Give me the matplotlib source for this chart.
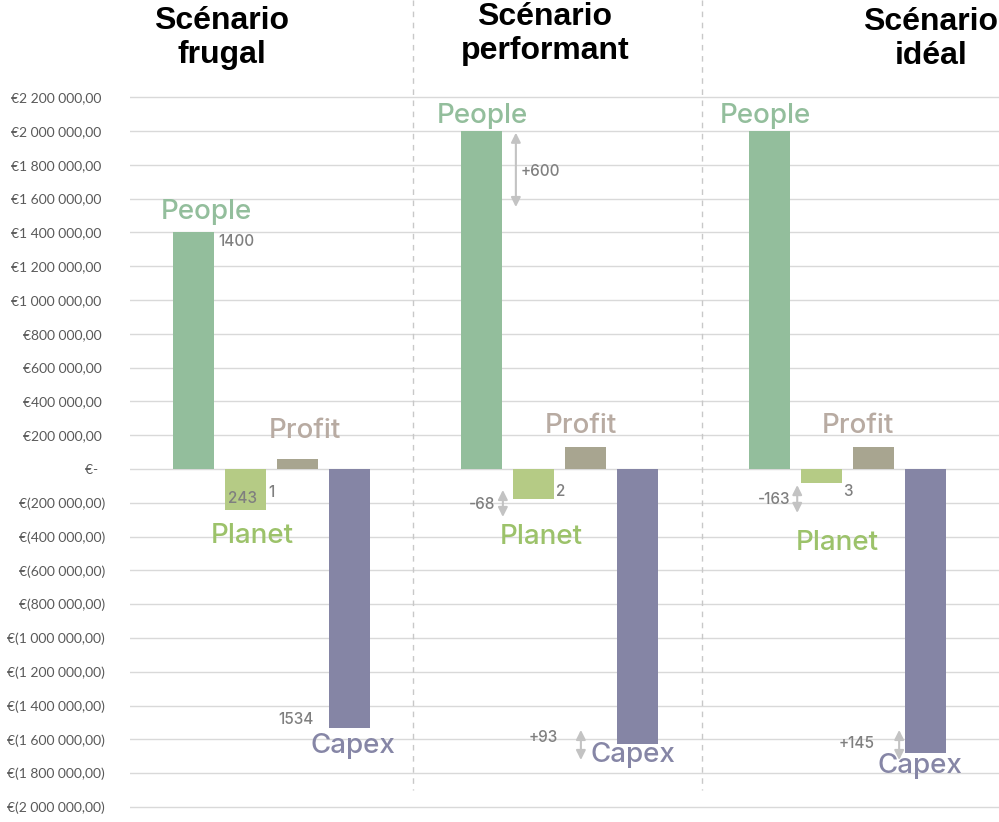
import numpy as np
import matplotlib.pyplot as plt
from matplotlib.lines import Line2D

# Données (en euros)
scenarios = ['Scénario\nfrugal', 'Scénario\nperformant', 'Scénario\nidéal']
postes = ['People', 'Planet', 'Profit', 'Capex']
people = [1400000, 2000000, 2000000]
planet = [-243000, -175000, -80000]
profit = [60000, 130000, 130000]
capex = [-1534000, -1627000, -1679000]

# annotations chiffrées : texte, x, y, alignement
notes = [
    ('1400', 0.47, 1349000, 'left'),
    ('243', 0.95, -172000, 'center'),
    ('1', 1.43, -142000, 'left'),
    ('1534', 1.63, -1485000, 'left'),
    ('+600', 6.30, 1763000, 'left'),
    ('-68', 5.80, -213000, 'right'),
    ('2', 6.97, -136000, 'left'),
    ('+93', 7.01, -1586000, 'right'),
    ('-163', 11.47, -178000, 'right'),
    ('3', 12.49, -136000, 'left'),
    ('+145', 13.09, -1627000, 'right'),
]
fleches = [
    (6.20, 1990000, 1550000),
    (5.95, -124000, -284000),
    (7.45, -1544000, -1722000),
    (11.61, -95000, -260000),
    (13.57, -1544000, -1722000),
]

couleurs_barres = ['#93BE9C', '#B5CB85', '#A8A590', '#8585A5']
couleurs_txt = ['#93BE9C', '#9CC26A', '#B8ABA2', '#8686A6']

# positions des étiquettes de catégorie (par scénario)
pos_labels = [
    [(0.24, 1521000), (1.125, -396000), (2.14, 225000), (3.07, -1639000)],
    [(5.55, 2089000), (6.68, -402000), (7.45, 254000), (8.45, -1692000)],
    [(10.99, 2089000), (12.38, -438000), (12.78, 254000), (13.97, -1757000)],
]

decalage = [0, 5.54, 11.08]


def fmt_euro(v, pos=None):
    if v == 0:
        return '€-  '
    s = '{:,.2f}'.format(abs(v)).replace(',', ' ').replace('.', ',')
    if v < 0:
        return '€(' + s + ')'
    return '€' + s + ' '


fig = plt.figure(figsize=(9.99, 8.22), dpi=100)
# 338 px pour 2 000 000, zéro à y=469 px
ymin, ymax = -2020000, 2220000
bas = 469 - ymin * 338 / 2e6
haut = 469 - ymax * 338 / 2e6
ax = fig.add_axes([130 / 999, (822 - bas) / 822, 869 / 999, (bas - haut) / 822])

valeurs = np.array([people, planet, profit, capex])
for g in range(3):
    for i in range(4):
        ax.bar(decalage[g] + i, valeurs[i][g], width=0.79,
               color=couleurs_barres[i], zorder=3)
        lx, ly = pos_labels[g][i]
        ax.text(lx, ly, postes[i], color=couleurs_txt[i], fontsize=20,
                family='Inter', fontweight='medium',
                ha='center', va='center', zorder=4)

for txt, x, y, ha in notes:
    ax.text(x, y, txt, color='#7F7F7F', fontsize=11, family='Inter',
            fontweight='medium', ha=ha, va='center', zorder=4)

for x, y0, y1 in fleches:
    ax.annotate('', xy=(x, y1), xytext=(x, y0),
                arrowprops=dict(arrowstyle='<|-|>', color='#C3C3C3',
                                lw=1.5, mutation_scale=14,
                                shrinkA=0, shrinkB=0), zorder=4)

ax.set_xlim(-1.22, 15.49)
ax.set_ylim(ymin, ymax)
ax.set_yticks(np.arange(-2000000, 2200001, 200000))
ax.yaxis.set_major_formatter(plt.FuncFormatter(fmt_euro))
ax.set_xticks([])
ax.grid(axis='y', color='#D9D9D9', lw=1, zorder=0)
ax.tick_params(axis='y', length=0, pad=18, labelsize=10, labelcolor='#595959')
for lab in ax.get_yticklabels():
    lab.set_family('Lato')
for sp in ax.spines.values():
    sp.set_visible(False)

# séparateurs pointillés
for px in [413, 702]:
    fig.add_artist(Line2D([px / 999, px / 999], [1.0, 1 - 790 / 822],
                          transform=fig.transFigure, color='#C8C8C8',
                          lw=1, ls=(0, (4, 4))))

# titres
titres_pos = [(222, 38), (545, 34), (931, 39)]
for t, (px, py) in zip(scenarios, titres_pos):
    fig.text(px / 999, 1 - py / 822, t, ha='center', va='center',
             fontsize=23, fontweight='bold', family='Liberation Sans',
             linespacing=1.2, color='black')

fig.savefig('out.png', dpi=100)
